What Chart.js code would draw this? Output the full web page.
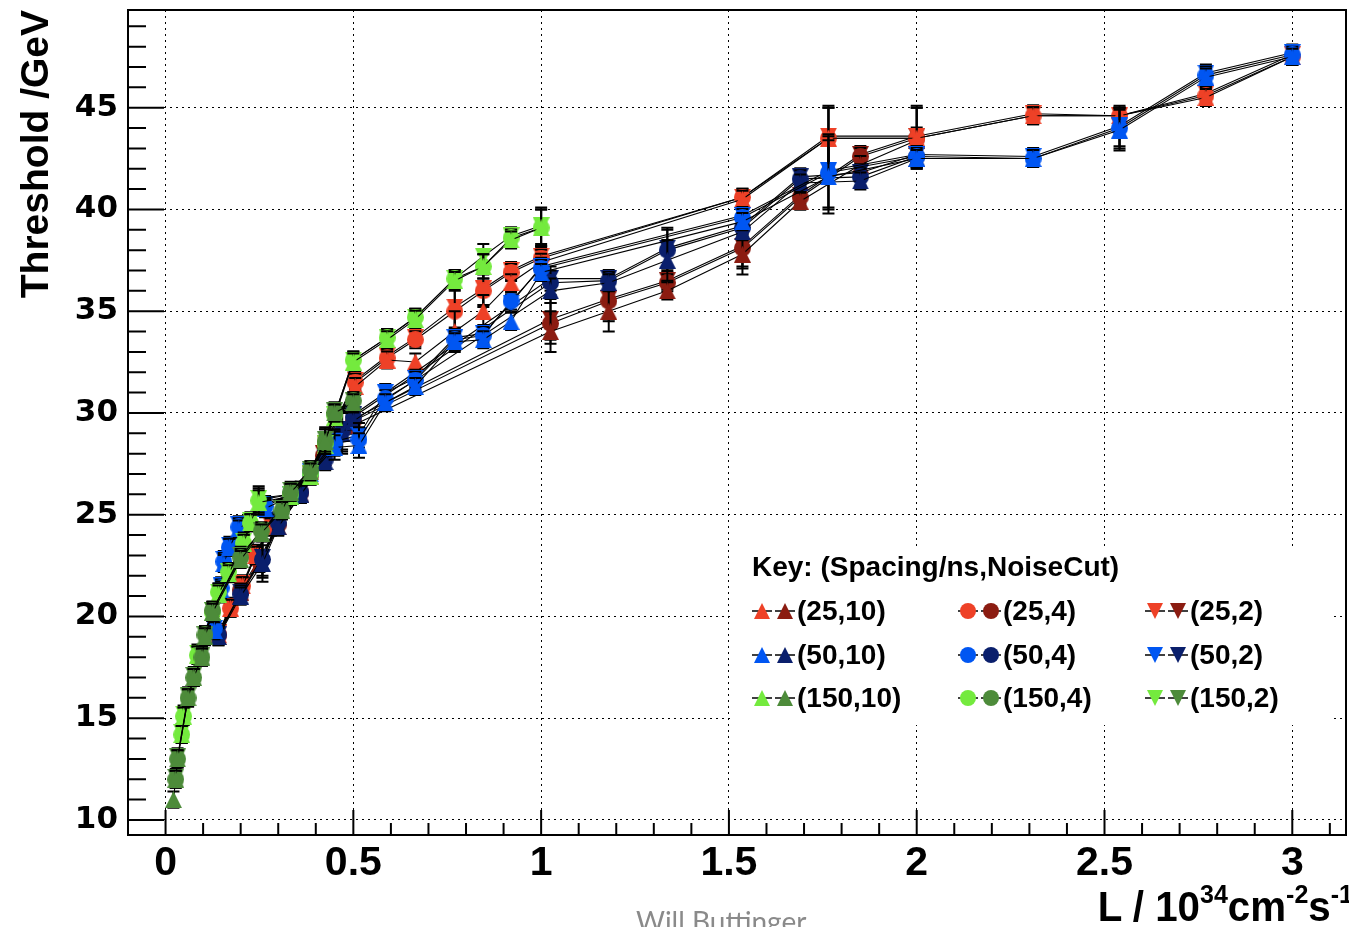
<!DOCTYPE html>
<html>
<head>
<meta charset="utf-8">
<title>Threshold vs luminosity</title>
<script src="https://cdn.jsdelivr.net/npm/chart.js@4.4.1/dist/chart.umd.min.js"></script>
<style>
  body { margin: 0; background: #fff; overflow: hidden; }
  #wrap { position: relative; width: 1349px; height: 927px; overflow: hidden; }
  #xtitle {
    position: absolute; right: -4px; top: 886px;
    font: bold 42px "Liberation Sans", Arial, sans-serif; line-height: 42px;
    transform: scaleX(0.96); transform-origin: right center; white-space: nowrap;
  }
  #xtitle sup { font-size: 0.62em; vertical-align: 0.7em; line-height: 0; }
  #footer {
    position: absolute; left: 636px; top: 907px;
    font: 28px Lato, "Open Sans", sans-serif; line-height: 28px; color: #8a8a8a; white-space: nowrap;
  }
</style>
</head>
<body>
<div id="wrap">
  <canvas id="thrChart" width="1349" height="927"></canvas>
  <div id="xtitle">L / 10<sup>34</sup>cm<sup>-2</sup>s<sup>-1</sup></div>
  <div id="footer">Will Buttinger</div>
</div>
<script>
// axis ticks
var xTicks = [0, 0.5, 1, 1.5, 2, 2.5, 3];
var yTicks = [10, 15, 20, 25, 30, 35, 40, 45];

// luminosity points, 10^34 cm^-2 s^-1 ("a" = light shade, "b" = dark shade)
var lum150a = [0.043, 0.048, 0.085, 0.125, 0.141, 0.168, 0.208, 0.226, 0.248, 0.333, 0.386, 0.425, 0.45, 0.5, 0.59, 0.665, 0.77, 0.846, 0.92, 1.0];
var lum150b = [0.021, 0.027, 0.032, 0.06, 0.075, 0.097, 0.105, 0.125, 0.2, 0.255, 0.31, 0.333, 0.386, 0.425, 0.45, 0.5];
var lum50a = [0.13, 0.148, 0.155, 0.17, 0.195, 0.265, 0.333, 0.386, 0.45, 0.515, 0.585, 0.665, 0.77, 0.846, 0.92, 1.0, 1.536, 1.765, 2.0, 2.31, 2.54, 2.77, 3.0];
var lum50b = [0.141, 0.2, 0.258, 0.3, 0.36, 0.425, 0.47, 0.5, 1.025, 1.18, 1.336, 1.536, 1.69, 1.85, 2.0];
var lum25a = [0.141, 0.173, 0.205, 0.24, 0.28, 0.333, 0.386, 0.425, 0.505, 0.59, 0.665, 0.77, 0.846, 0.92, 1.0, 1.536, 1.765, 2.0, 2.31, 2.54, 2.77, 3.0];
var lum25b = [0.141, 0.2, 0.25, 0.3, 0.36, 0.42, 0.5, 1.025, 1.18, 1.336, 1.536, 1.69, 1.85, 2.0];

// thresholds in GeV, named thr<spacing>_<noisecut><shade>
var thr150_10a = [14.2, 15.1, 18.1, 20.2, 21.1, 22.1, 23.6, 24.6, 25.6, 25.9, 26.9, 28.4, 29.8, 32.5, 33.6, 34.6, 36.5, 37.2, 38.5, 39.1];
var thr150_4a  = [14.2, 15.1, 18.1, 20.2, 21.2, 22.2, 23.6, 24.6, 25.7, 26.0, 27.0, 28.5, 29.9, 32.6, 33.7, 34.7, 36.6, 37.2, 38.6, 39.1];
var thr150_2a  = [14.3, 15.2, 18.2, 20.3, 21.2, 22.2, 23.7, 24.7, 25.8, 26.0, 27.0, 28.5, 29.9, 32.6, 33.7, 34.7, 36.6, 37.7, 38.7, 39.2];
var thr150_10b = [11.0, 12.0, 13.0, 16.0, 17.0, 18.0, 19.0, 20.2, 22.8, 24.1, 25.2, 26.1, 27.1, 28.6, 30.0, 30.5];
var thr150_4b  = [null, 12.0, 13.0, 16.0, 17.0, 18.0, 19.1, 20.3, 22.9, 24.2, 25.2, 26.1, 27.2, 28.6, 30.0, 30.6];
var thr150_2b  = [null, 12.1, 13.1, 16.1, 17.1, 18.1, 19.1, 20.3, 23.0, 24.2, 25.3, 26.2, 27.2, 28.7, 30.1, 30.6];
var thr50_10a = [19.3, 21.3, 22.6, 23.4, 24.3, 25.3, 25.9, 27.0, 28.3, 28.4, 30.5, 31.3, 33.5, 33.6, 34.5, 36.9, 39.4, 41.6, 42.5, 42.5, 43.9, 46.5, 47.5];
var thr50_4a  = [19.4, 21.4, 22.7, 23.4, 24.4, 25.4, 26.0, 27.0, 28.5, 28.7, 30.7, 31.6, 33.6, 33.8, 35.5, 37.1, 39.6, 41.8, 42.6, 42.5, 44.0, 46.6, 47.6];
var thr50_2a  = [19.4, 21.5, 22.8, 23.5, 24.5, 25.5, 26.0, 27.1, 28.6, 28.9, 31.0, 31.7, 33.7, 33.9, 35.4, 37.2, 39.7, 41.9, 42.7, 42.6, 44.1, 46.7, 47.7];
var thr50_10b = [19.0, 21.0, 22.6, 24.4, 26.0, 27.6, 29.0, 29.6, 36.0, 36.4, 37.5, 38.9, 41.3, 41.4, 42.5];
var thr50_4b  = [19.1, 21.1, 22.8, 24.6, 26.1, 27.7, 29.1, 29.8, 36.4, 36.5, 38.0, 39.1, 41.5, 41.6, 42.6];
var thr50_2b  = [19.1, 21.2, 22.9, 24.7, 26.2, 27.8, 29.2, 29.9, 36.6, 36.6, 38.1, 39.2, 41.6, 41.8, 42.7];
var thr25_10a = [19.1, 20.4, 21.5, 23.0, 24.4, 25.9, 26.9, 28.4, 31.3, 32.6, 32.5, 34.0, 35.0, 36.4, 37.4, 40.5, 43.5, 43.5, 44.6, 44.6, 45.5, 47.5];
var thr25_4a  = [19.1, 20.4, 21.5, 23.0, 24.4, 25.9, 26.9, 28.5, 31.5, 32.7, 33.6, 35.0, 36.0, 36.9, 37.6, 40.6, 43.5, 43.5, 44.6, 44.6, 45.6, 47.5];
var thr25_2a  = [19.2, 20.5, 21.6, 23.1, 24.5, 26.0, 27.0, 28.5, 31.6, 32.8, 33.7, 35.2, 36.1, 37.0, 37.7, 40.6, 43.6, 43.6, 44.7, 44.6, 45.7, 47.6];
var thr25_10b = [19.0, 21.2, 22.6, 24.4, 26.0, 27.8, 29.4, 34.0, 35.0, 36.0, 37.8, 40.4, 42.2, 43.4];
var thr25_4b  = [19.1, 21.3, 22.7, 24.5, 26.1, 27.9, 29.6, 34.4, 35.5, 36.4, 38.1, 40.6, 42.6, 43.5];
var thr25_2b  = [19.2, 21.4, 22.8, 24.6, 26.2, 28.0, 29.7, 34.6, 35.6, 36.5, 38.2, 40.7, 42.7, 43.6];

// statistical errors (GeV), shared by the three noise cuts of a set
var err150a = [0.42, 0.42, 0.42, 0.42, 0.42, 0.42, 0.42, 0.42, 0.6, 0.42, 0.42, 0.42, 0.42, 0.42, 0.42, 0.42, 0.42, 0.6, 0.42, 0.9];
var err150b = [0.4, 0.42, 0.42, 0.42, 0.42, 0.42, 0.42, 0.42, 0.42, 0.42, 0.42, 0.42, 0.42, 0.6, 0.42, 0.42];
var err50a = [0.42, 0.42, 0.42, 0.42, 0.42, 0.42, 0.42, 0.42, 0.6, 0.6, 0.42, 0.42, 0.42, 0.42, 0.42, 0.42, 0.42, 1.8, 0.42, 0.42, 1.0, 0.42, 0.4];
var err50b = [0.42, 0.42, 0.9, 0.42, 0.42, 0.42, 1.0, 0.42, 0.6, 0.42, 1.0, 0.42, 0.42, 0.42, 0.42];
var err25a = [0.42, 0.42, 0.42, 0.42, 0.42, 0.42, 0.42, 0.42, 0.42, 0.42, 0.42, 1.0, 0.8, 0.42, 0.42, 0.42, 1.5, 1.5, 0.42, 0.4, 0.42, 0.4];
var err25b = [0.42, 0.42, 0.42, 0.42, 0.42, 0.42, 0.42, 1.0, 1.0, 0.42, 1.0, 0.42, 0.42, 0.42];

var legendLabels = ['(25,10)', '(25,4)', '(25,2)', '(50,10)', '(50,4)', '(50,2)', '(150,10)', '(150,4)', '(150,2)'];

var COL = {
  red: '#ee4127', darkRed: '#8b1c11',
  blue: '#0056f2', navy: '#0a1f6c',
  green: '#74ea3e', darkGreen: '#4d8b3a'
};
var SHAPES = ['up', 'circle', 'down']; // noise cut 10, 4, 2

// ROOT-like filled markers: triangle / circle / inverted triangle in a square box
function marker(color, shape, size) {
  var c = document.createElement('canvas');
  c.width = size; c.height = size;
  var g = c.getContext('2d');
  g.fillStyle = color;
  g.beginPath();
  if (shape === 'up') { g.moveTo(0, size); g.lineTo(size / 2, 0); g.lineTo(size, size); }
  else if (shape === 'down') { g.moveTo(0, 0); g.lineTo(size, 0); g.lineTo(size / 2, size); }
  else { g.arc(size / 2, size / 2, size / 2, 0, Math.PI * 2); }
  g.closePath();
  g.fill();
  return c;
}

function points(xs, ys, es) {
  return xs.map(function (x, i) { return { x: x, y: ys[i], err: es[i] }; });
}

// first entry is drawn on top
var sets = [
  { xs: lum150b, es: err150b, ys: [thr150_10b, thr150_4b, thr150_2b], color: COL.darkGreen },
  { xs: lum150a, es: err150a, ys: [thr150_10a, thr150_4a, thr150_2a], color: COL.green },
  { xs: lum50a,  es: err50a,  ys: [thr50_10a, thr50_4a, thr50_2a],    color: COL.blue },
  { xs: lum50b,  es: err50b,  ys: [thr50_10b, thr50_4b, thr50_2b],    color: COL.navy },
  { xs: lum25a,  es: err25a,  ys: [thr25_10a, thr25_4a, thr25_2a],    color: COL.red },
  { xs: lum25b,  es: err25b,  ys: [thr25_10b, thr25_4b, thr25_2b],    color: COL.darkRed }
];

var datasets = [];
sets.forEach(function (s) {
  s.ys.forEach(function (ys, k) {
    datasets.push({
      data: points(s.xs, ys, s.es),
      showLine: true,
      borderColor: '#000',
      borderWidth: 1.1,
      pointStyle: marker(s.color, SHAPES[k], 17),
      pointRadius: 8.5,
      pointHoverRadius: 8.5
    });
  });
});

// error bars go down just before each graph, so its own markers sit on top
var errorBars = {
  id: 'errorBars',
  beforeDatasetDraw: function (chart, args) {
    var ctx = chart.ctx, ys = chart.scales.y, a = chart.chartArea;
    var ds = chart.data.datasets[args.index];
    var meta = args.meta;
    ctx.save();
    ctx.beginPath();
    ctx.rect(a.left, a.top, a.right - a.left, a.bottom - a.top);
    ctx.clip();
    ctx.strokeStyle = '#000';
    ctx.lineWidth = 2;
    ds.data.forEach(function (p, j) {
      if (p.y === null) return;
      var el = meta.data[j];
      var top = ys.getPixelForValue(p.y + p.err);
      var bot = ys.getPixelForValue(p.y - p.err);
      ctx.beginPath();
      ctx.moveTo(el.x, top); ctx.lineTo(el.x, bot);
      ctx.moveTo(el.x - 6, top); ctx.lineTo(el.x + 6, top);
      ctx.moveTo(el.x - 6, bot); ctx.lineTo(el.x + 6, bot);
      ctx.stroke();
    });
    ctx.restore();
  }
};

// frame, inward ticks and the key box
var frameAndKey = {
  id: 'frameAndKey',
  afterDraw: function (chart) {
    var ctx = chart.ctx, a = chart.chartArea;
    var sx = chart.scales.x, sy = chart.scales.y;
    ctx.save();
    ctx.strokeStyle = '#000';
    ctx.lineWidth = 2;
    ctx.beginPath();
    var i, px, py, major;
    for (i = 0; i <= 31; i++) {
      px = sx.getPixelForValue(i / 10);
      major = i % 5 === 0;
      ctx.moveTo(px, a.bottom); ctx.lineTo(px, a.bottom - (major ? 25 : 12));
    }
    for (i = 10; i <= 49; i++) {
      py = sy.getPixelForValue(i);
      major = i % 5 === 0;
      ctx.moveTo(a.left, py); ctx.lineTo(a.left + (major ? 36 : 18), py);
    }
    ctx.stroke();
    ctx.strokeRect(a.left, a.top, a.right - a.left, a.bottom - a.top);

    // key
    ctx.fillStyle = '#fff';
    ctx.fillRect(733, 546, 597, 179);
    ctx.fillStyle = '#000';
    ctx.textBaseline = 'middle';
    ctx.font = 'bold 28px "Liberation Sans", Arial, sans-serif';
    ctx.fillText('Key: (Spacing/ns,NoiseCut)', 752, 568);
    var rowY = [611, 655, 698];
    var colX = [762, 968, 1155];
    var light = [COL.red, COL.blue, COL.green];
    var dark = [COL.darkRed, COL.navy, COL.darkGreen];
    ctx.lineWidth = 1.5;
    for (var r = 0; r < 3; r++) {
      for (var c = 0; c < 3; c++) {
        var x0 = colX[c], y0 = rowY[r];
        [x0, x0 + 23].forEach(function (mx, k) {
          ctx.beginPath();
          ctx.moveTo(mx - 10, y0); ctx.lineTo(mx + 10, y0);
          ctx.stroke();
          var m = marker(k === 0 ? light[r] : dark[r], SHAPES[c], 16);
          ctx.drawImage(m, mx - 8, y0 - 8);
        });
        ctx.fillText(legendLabels[r * 3 + c], x0 + 35, y0 + 1);
      }
    }
    ctx.restore();
  }
};

new Chart(document.getElementById('thrChart').getContext('2d'), {
  type: 'scatter',
  data: { datasets: datasets },
  options: {
    responsive: false,
    animation: false,
    events: [],
    layout: { autoPadding: false, padding: { top: 10, right: 3, left: 0, bottom: 0 } },
    plugins: { legend: { display: false }, tooltip: { enabled: false } },
    scales: {
      x: {
        type: 'linear', min: -0.1, max: 3.143,
        afterBuildTicks: function (s) { s.ticks = xTicks.map(function (v) { return { value: v }; }); },
        afterFit: function (s) { s.height = 92; s.paddingLeft = 0; s.paddingRight = 0; },
        grid: { color: '#000', lineWidth: 1, drawTicks: false },
        border: { display: false, dash: [2, 4] },
        ticks: {
          color: '#000', padding: 4, maxRotation: 0,
          font: { family: '"Liberation Sans", Arial, sans-serif', size: 41, weight: 'bold' },
          callback: function (v) { return String(v); }
        }
      },
      y: {
        type: 'linear', min: 9.26, max: 49.8,
        afterBuildTicks: function (s) { s.ticks = yTicks.map(function (v) { return { value: v }; }); },
        afterFit: function (s) { s.width = 128; s.paddingTop = 0; s.paddingBottom = 0; },
        grid: { color: '#000', lineWidth: 1, drawTicks: false },
        border: { display: false, dash: [2, 4] },
        ticks: {
          color: '#000', padding: 10,
          font: { family: '"DejaVu Sans", sans-serif', size: 31, weight: 'bold' },
          callback: function (v) { return String(v); }
        },
        title: {
          display: true, text: 'Threshold /GeV', align: 'end', color: '#000',
          font: { family: '"Liberation Sans", Arial, sans-serif', size: 39, weight: 'bold' },
          padding: { top: 14, bottom: 0 }
        }
      }
    }
  },
  plugins: [errorBars, frameAndKey]
});
</script>
</body>
</html>
